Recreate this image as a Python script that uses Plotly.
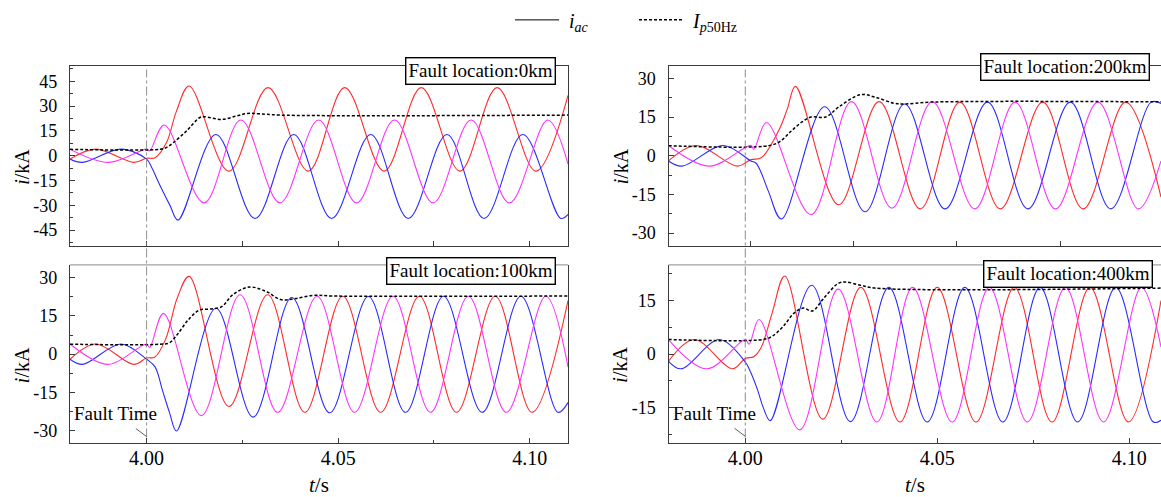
import plotly.graph_objects as go

FAULT_TIME = 4.00

# ---------------- values (t in s, i in kA) ----------------
# Fault location 0 km (top-left)
km0_red_t = [3.98, 3.9867, 3.9967, 4.0, 4.0022, 4.0052, 4.0078, 4.0111, 4.0215, 4.0317, 4.0422, 4.0517, 4.0620, 4.0717, 4.0818, 4.0915, 4.1016, 4.11]
km0_red_i = [-2.0, 4.0, -4.0, -1.5, -1.2, 8.0, 27.0, 42.2, -9.3, 41.2, -9.3, 41.2, -9.3, 41.2, -9.3, 41.2, -9.3, 36.5]
km0_blue_t = [3.98, 3.9833, 3.9933, 4.0, 4.0013, 4.0035, 4.0061, 4.0082, 4.0181, 4.0283, 4.0384, 4.0483, 4.0585, 4.0683, 4.0784, 4.0881, 4.0982, 4.1081, 4.11]
km0_blue_i = [-2.0, -4.0, 4.0, -2.0, -7.0, -18.0, -30.0, -38.9, 12.9, -37.9, 12.9, -37.9, 12.9, -37.9, 12.9, -37.9, 12.9, -37.9, -35.5]
km0_mag_t = [3.98, 3.99, 4.0, 4.0008, 4.0046, 4.0150, 4.0246, 4.0348, 4.0449, 4.0548, 4.0647, 4.0748, 4.0847, 4.0947, 4.1047, 4.11]
km0_mag_i = [4.0, -4.0, 4.0, 3.0, 18.6, -28.5, 21.6, -28.5, 21.6, -28.5, 21.6, -28.5, 21.6, -28.5, 21.6, -5.0]
km0_ip_t = [3.98, 4.0035, 4.0050, 4.0070, 4.0104, 4.0138, 4.0150, 4.0196, 4.0234, 4.0263, 4.0292, 4.0350, 4.11]
km0_ip_i = [3.9, 3.9, 4.8, 8.0, 15.0, 23.0, 23.6, 22.0, 24.0, 25.6, 25.4, 24.6, 24.6]

# Fault location 100 km (bottom-left)
km100_red_t = [3.98, 3.9867, 3.9967, 4.0, 4.0021, 4.0050, 4.0080, 4.0111, 4.0215, 4.0316, 4.0413, 4.0512, 4.0611, 4.0712, 4.0809, 4.0910, 4.1006, 4.11]
km100_red_i = [-2.0, 4.0, -4.0, -1.5, -1.2, 6.0, 22.0, 30.5, -20.5, 23.3, -22.8, 22.7, -22.8, 22.7, -22.8, 22.7, -22.8, 21.0]
km100_blue_t = [3.98, 3.9833, 3.9933, 4.0, 4.0022, 4.0041, 4.0060, 4.0078, 4.0181, 4.0278, 4.0379, 4.0478, 4.0579, 4.0676, 4.0775, 4.0876, 4.0977, 4.1074, 4.11]
km100_blue_i = [-2.0, -4.0, 4.0, -2.0, -5.0, -14.0, -23.0, -30.1, 18.0, -24.7, 22.2, -23.0, 22.6, -22.8, 22.7, -22.8, 22.7, -22.8, -19.0]
km100_mag_t = [3.98, 3.99, 4.0, 4.0008, 4.0044, 4.0143, 4.0244, 4.0342, 4.0445, 4.0543, 4.0643, 4.0741, 4.0840, 4.0939, 4.1042, 4.11]
km100_mag_i = [4.0, -4.0, 4.0, 2.6, 16.0, -24.1, 23.3, -22.8, 22.7, -22.8, 22.7, -22.8, 22.7, -22.8, 22.7, -5.0]
km100_ip_t = [3.98, 4.0035, 4.0060, 4.0080, 4.0109, 4.0138, 4.0167, 4.0196, 4.0225, 4.0268, 4.0312, 4.0350, 4.0389, 4.0437, 4.0485, 4.11]
km100_ip_i = [3.9, 3.9, 4.5, 7.7, 13.5, 17.3, 17.7, 18.6, 23.3, 26.3, 24.6, 21.4, 21.8, 23.1, 22.8, 22.8]

# Fault location 200 km (top-right)
km200_red_t = [3.98, 3.9867, 3.9967, 4.0, 4.0025, 4.0068, 4.0088, 4.0108, 4.0213, 4.0311, 4.0411, 4.0507, 4.0605, 4.0708, 4.0806, 4.0909, 4.0995]
km200_red_i = [-2.0, 4.0, -4.0, -1.5, -0.8, 10.0, 18.0, 26.9, -19.0, 21.0, -20.6, 20.8, -20.6, 20.8, -20.6, 20.8, -16.0]
km200_blue_t = [3.98, 3.9833, 3.9933, 4.0, 4.0012, 4.0025, 4.0043, 4.0074, 4.0179, 4.0277, 4.0373, 4.0471, 4.0574, 4.0672, 4.0775, 4.0873, 4.0971, 4.0995]
km200_blue_i = [-2.0, -4.0, 4.0, -2.0, -2.8, -6.6, -14.0, -24.5, 19.0, -21.7, 20.1, -20.6, 20.8, -20.6, 20.8, -20.6, 20.8, 20.3]
km200_mag_t = [3.98, 3.99, 4.0, 4.0007, 4.0038, 4.0146, 4.0244, 4.0342, 4.0440, 4.0543, 4.0641, 4.0739, 4.0842, 4.0940, 4.0995]
km200_mag_i = [4.0, -4.0, 4.0, 2.5, 12.9, -22.8, 21.0, -20.3, 21.0, -20.6, 20.8, -20.6, 20.8, -20.6, -2.0]
km200_ip_t = [3.98, 4.0043, 4.0070, 4.0096, 4.0123, 4.0146, 4.0181, 4.0213, 4.0266, 4.0302, 4.0346, 4.0373, 4.0436, 4.0995]
km200_ip_i = [3.9, 3.9, 5.5, 9.3, 13.0, 15.0, 15.0, 18.9, 23.7, 22.7, 20.4, 20.1, 20.8, 20.9]

# Fault location 400 km (bottom-right)
km400_red_t = [3.98, 3.9867, 3.9967, 4.0, 4.0022, 4.0041, 4.0070, 4.0103, 4.0202, 4.0301, 4.0403, 4.0500, 4.0601, 4.0701, 4.0799, 4.0898, 4.0998, 4.1083]
km400_red_i = [-2.0, 4.1, -4.1, -1.2, -0.7, 1.8, 11.5, 21.9, -18.2, 18.7, -19.0, 18.7, -19.0, 18.7, -19.0, 18.7, -19.0, 15.0]
km400_blue_t = [3.98, 3.9833, 3.9933, 4.0, 4.0012, 4.0032, 4.0046, 4.0065, 4.0173, 4.0274, 4.0374, 4.0474, 4.0572, 4.0671, 4.0768, 4.0866, 4.0965, 4.1063, 4.1083]
km400_blue_i = [-2.0, -4.1, 4.1, -2.2, -4.6, -10.0, -14.7, -18.6, 19.3, -18.9, 18.7, -19.0, 18.7, -19.0, 18.7, -19.0, 18.7, -19.0, -18.5]
km400_mag_t = [3.98, 3.99, 4.0, 4.0010, 4.0036, 4.0142, 4.0242, 4.0343, 4.0436, 4.0539, 4.0636, 4.0735, 4.0834, 4.0933, 4.1032, 4.1083]
km400_mag_i = [4.1, -4.1, 4.1, 2.8, 9.7, -21.2, 18.2, -19.0, 18.7, -19.0, 18.7, -19.0, 18.7, -19.0, 18.7, 2.0]
km400_ip_t = [3.98, 4.0046, 4.0070, 4.0099, 4.0127, 4.0151, 4.0175, 4.0204, 4.0242, 4.0261, 4.0300, 4.0338, 4.1083]
km400_ip_i = [4.1, 4.1, 5.0, 7.8, 11.5, 12.9, 12.1, 15.6, 19.8, 20.2, 19.3, 18.5, 18.5]

# tick labels
yticks_0km = [-45, -30, -15, 0, 15, 30, 45]
yticks_100km = [-30, -15, 0, 15, 30]
yticks_200km = [-30, -15, 0, 15, 30]
yticks_400km = [-15, 0, 15]
xticks_bottom = [4.00, 4.05, 4.10]
xtick_labels_bottom = ["4.00", "4.05", "4.10"]
panel_labels = ["Fault location:0km", "Fault location:200km",
                "Fault location:100km", "Fault location:400km"]

# ---------------- styling ----------------
W, H = 1161, 497
FONT = "Liberation Serif, Times New Roman, serif"
RED, BLUE, MAG = "#ff2b2b", "#2b2bff", "#ff33ff"
AXC = "#3a3a3a"
LW = 1.1
NBSP = "\u00a0"

panels = [
    ("0km", "x", "y",
     [(km0_red_t, km0_red_i, RED), (km0_blue_t, km0_blue_i, BLUE), (km0_mag_t, km0_mag_i, MAG)],
     (km0_ip_t, km0_ip_i), [3.98, 4.11], [-54.6, 54.6], yticks_0km, "L", "T"),
    ("200km", "x2", "y2",
     [(km200_red_t, km200_red_i, RED), (km200_blue_t, km200_blue_i, BLUE), (km200_mag_t, km200_mag_i, MAG)],
     (km200_ip_t, km200_ip_i), [3.98, 4.0995], [-35, 35], yticks_200km, "R", "T"),
    ("100km", "x3", "y3",
     [(km100_red_t, km100_red_i, RED), (km100_blue_t, km100_blue_i, BLUE), (km100_mag_t, km100_mag_i, MAG)],
     (km100_ip_t, km100_ip_i), [3.98, 4.11], [-35, 35], yticks_100km, "L", "B"),
    ("400km", "x4", "y4",
     [(km400_red_t, km400_red_i, RED), (km400_blue_t, km400_blue_i, BLUE), (km400_mag_t, km400_mag_i, MAG)],
     (km400_ip_t, km400_ip_i), [3.98, 4.1083], [-25, 25], yticks_400km, "R", "B"),
]

XDOM = {"L": [70 / W, 568 / W], "R": [668.5 / W, 1.0]}
YDOM = {"T": [1 - 244 / H, 1 - 62 / H], "B": [1 - 443 / H, 1 - 263 / H]}

fig = go.Figure()
layout = dict(
    width=W, height=H, margin=dict(l=0, r=0, t=0, b=0),
    paper_bgcolor="white", plot_bgcolor="white",
    font=dict(family=FONT, color="black", size=18),
    showlegend=True,
    legend=dict(orientation="h", x=0.4393, y=1 - 16 / H, xanchor="left", yanchor="middle",
                font=dict(size=20, family=FONT), itemwidth=44, entrywidth=65,
                bgcolor="rgba(0,0,0,0)"),
)
annotations = []
shapes = []

for idx, (name, xa, ya, series, ip, xr, yr, yt, col, row) in enumerate(panels):
    for (tt, ii, c) in series:
        fig.add_trace(go.Scatter(x=tt, y=ii, mode="lines", xaxis=xa, yaxis=ya,
                                 line=dict(color=c, width=LW, shape="spline", smoothing=1.0),
                                 showlegend=False, hoverinfo="skip"))
    fig.add_trace(go.Scatter(x=ip[0], y=ip[1], mode="lines", xaxis=xa, yaxis=ya,
                             line=dict(color="black", width=1.5, dash="3px,2px", shape="spline", smoothing=1.0),
                             showlegend=False, hoverinfo="skip"))
    xkey = "xaxis" if xa == "x" else "xaxis" + xa[1:]
    ykey = "yaxis" if ya == "y" else "yaxis" + ya[1:]
    bottom = row == "B"
    xax = dict(domain=XDOM[col], anchor=ya, range=xr, showgrid=False, zeroline=False,
               showline=True, linecolor=AXC, linewidth=1.2, ticks="inside", tickcolor=AXC,
               mirror=(not bottom))
    if bottom:
        xax.update(tickmode="array", tickvals=xticks_bottom, ticktext=xtick_labels_bottom,
                   ticklen=5, tickfont=dict(size=20), ticklabelstandoff=-4,
                   minor=dict(dtick=0.025, tick0=4.0, ticks="inside", ticklen=3, tickcolor=AXC))
    else:
        xax.update(tickmode="linear", tick0=4.0, dtick=0.025, ticklen=5, showticklabels=False)
    yax = dict(domain=YDOM[row], anchor=xa, range=yr, showgrid=False, zeroline=False,
               showline=True, linecolor=AXC, linewidth=1.2, ticks="inside", tickcolor=AXC,
               ticklen=5, tickmode="array", tickvals=yt, ticktext=[str(v) for v in yt],
               tickfont=dict(size=18), ticklabelstandoff=8,
               mirror=(col == "L"),
               minor=dict(dtick=7.5, tick0=0, ticks="inside", ticklen=3, tickcolor=AXC))
    layout[xkey] = xax
    layout[ykey] = yax

    dref = xa + " domain"
    yref = ya + " domain"
    annotations.append(dict(text="<i>i</i>/kA", xref=dref, yref=yref, x=0, y=0.5,
                            xshift=-48, yshift=-11, showarrow=False, textangle=-90,
                            font=dict(size=20), xanchor="center", yanchor="middle"))
    if bottom:
        annotations.append(dict(text="<i>t</i>/s", xref=dref, yref=yref, x=0.5,
                                y=0, yshift=-42, showarrow=False, font=dict(size=21),
                                xanchor="center", yanchor="middle"))
        shapes.append(dict(type="line", xref=dref, yref=yref, x0=0, x1=1, y0=1, y1=1,
                           line=dict(color="#a0a0a0", width=1.2)))

box_pos = {"0km": (0.976, 0.967), "200km": (0.978, 0.992), "100km": (0.976, 0.964), "400km": (0.984, 0.947)}
for (name, xa, ya, *_), label in zip(panels, panel_labels):
    bx, by = box_pos[name]
    annotations.append(dict(text=label, xref=xa + " domain", yref=ya + " domain", x=bx, y=by,
                            xanchor="right", yanchor="middle", showarrow=False,
                            font=dict(size=19), bgcolor="white", bordercolor="black",
                            borderwidth=1.4, borderpad=2))

annotations.append(dict(text="Fault Time", xref="x3", yref="y3", x=FAULT_TIME, y=-32.3,
                        ax=-31, ay=-23, showarrow=True, arrowhead=0, arrowwidth=0.8,
                        arrowcolor="#333", startstandoff=5, font=dict(size=19)))
annotations.append(dict(text="Fault Time", xref="x4", yref="y4", x=FAULT_TIME, y=-23.0,
                        ax=-31, ay=-23, showarrow=True, arrowhead=0, arrowwidth=0.8,
                        arrowcolor="#333", startstandoff=5, font=dict(size=19)))

for xr_ in ("x3", "x4"):
    shapes.append(dict(type="line", xref=xr_, yref="paper", x0=FAULT_TIME, x1=FAULT_TIME,
                       y0=1 - 437 / H, y1=1 - 66 / H,
                       line=dict(color="#808080", width=0.9, dash="dashdot"), layer="above"))

fig.add_trace(go.Scatter(x=[None], y=[None], mode="lines", xaxis="x", yaxis="y",
                         line=dict(color="black", width=1),
                         name=NBSP + "<i>i</i><sub><i>ac</i></sub>"))
fig.add_trace(go.Scatter(x=[None], y=[None], mode="lines", xaxis="x", yaxis="y",
                         line=dict(color="black", width=1.5, dash="3px,2px"),
                         name=NBSP + "<i>I</i><sub><i>p</i>50Hz</sub>"))

layout["annotations"] = annotations
layout["shapes"] = shapes
fig.update_layout(**layout)
fig.write_html("out.html", config={"displayModeBar": False},
               post_script="document.body.style.margin='0';document.body.style.overflow='hidden';")
